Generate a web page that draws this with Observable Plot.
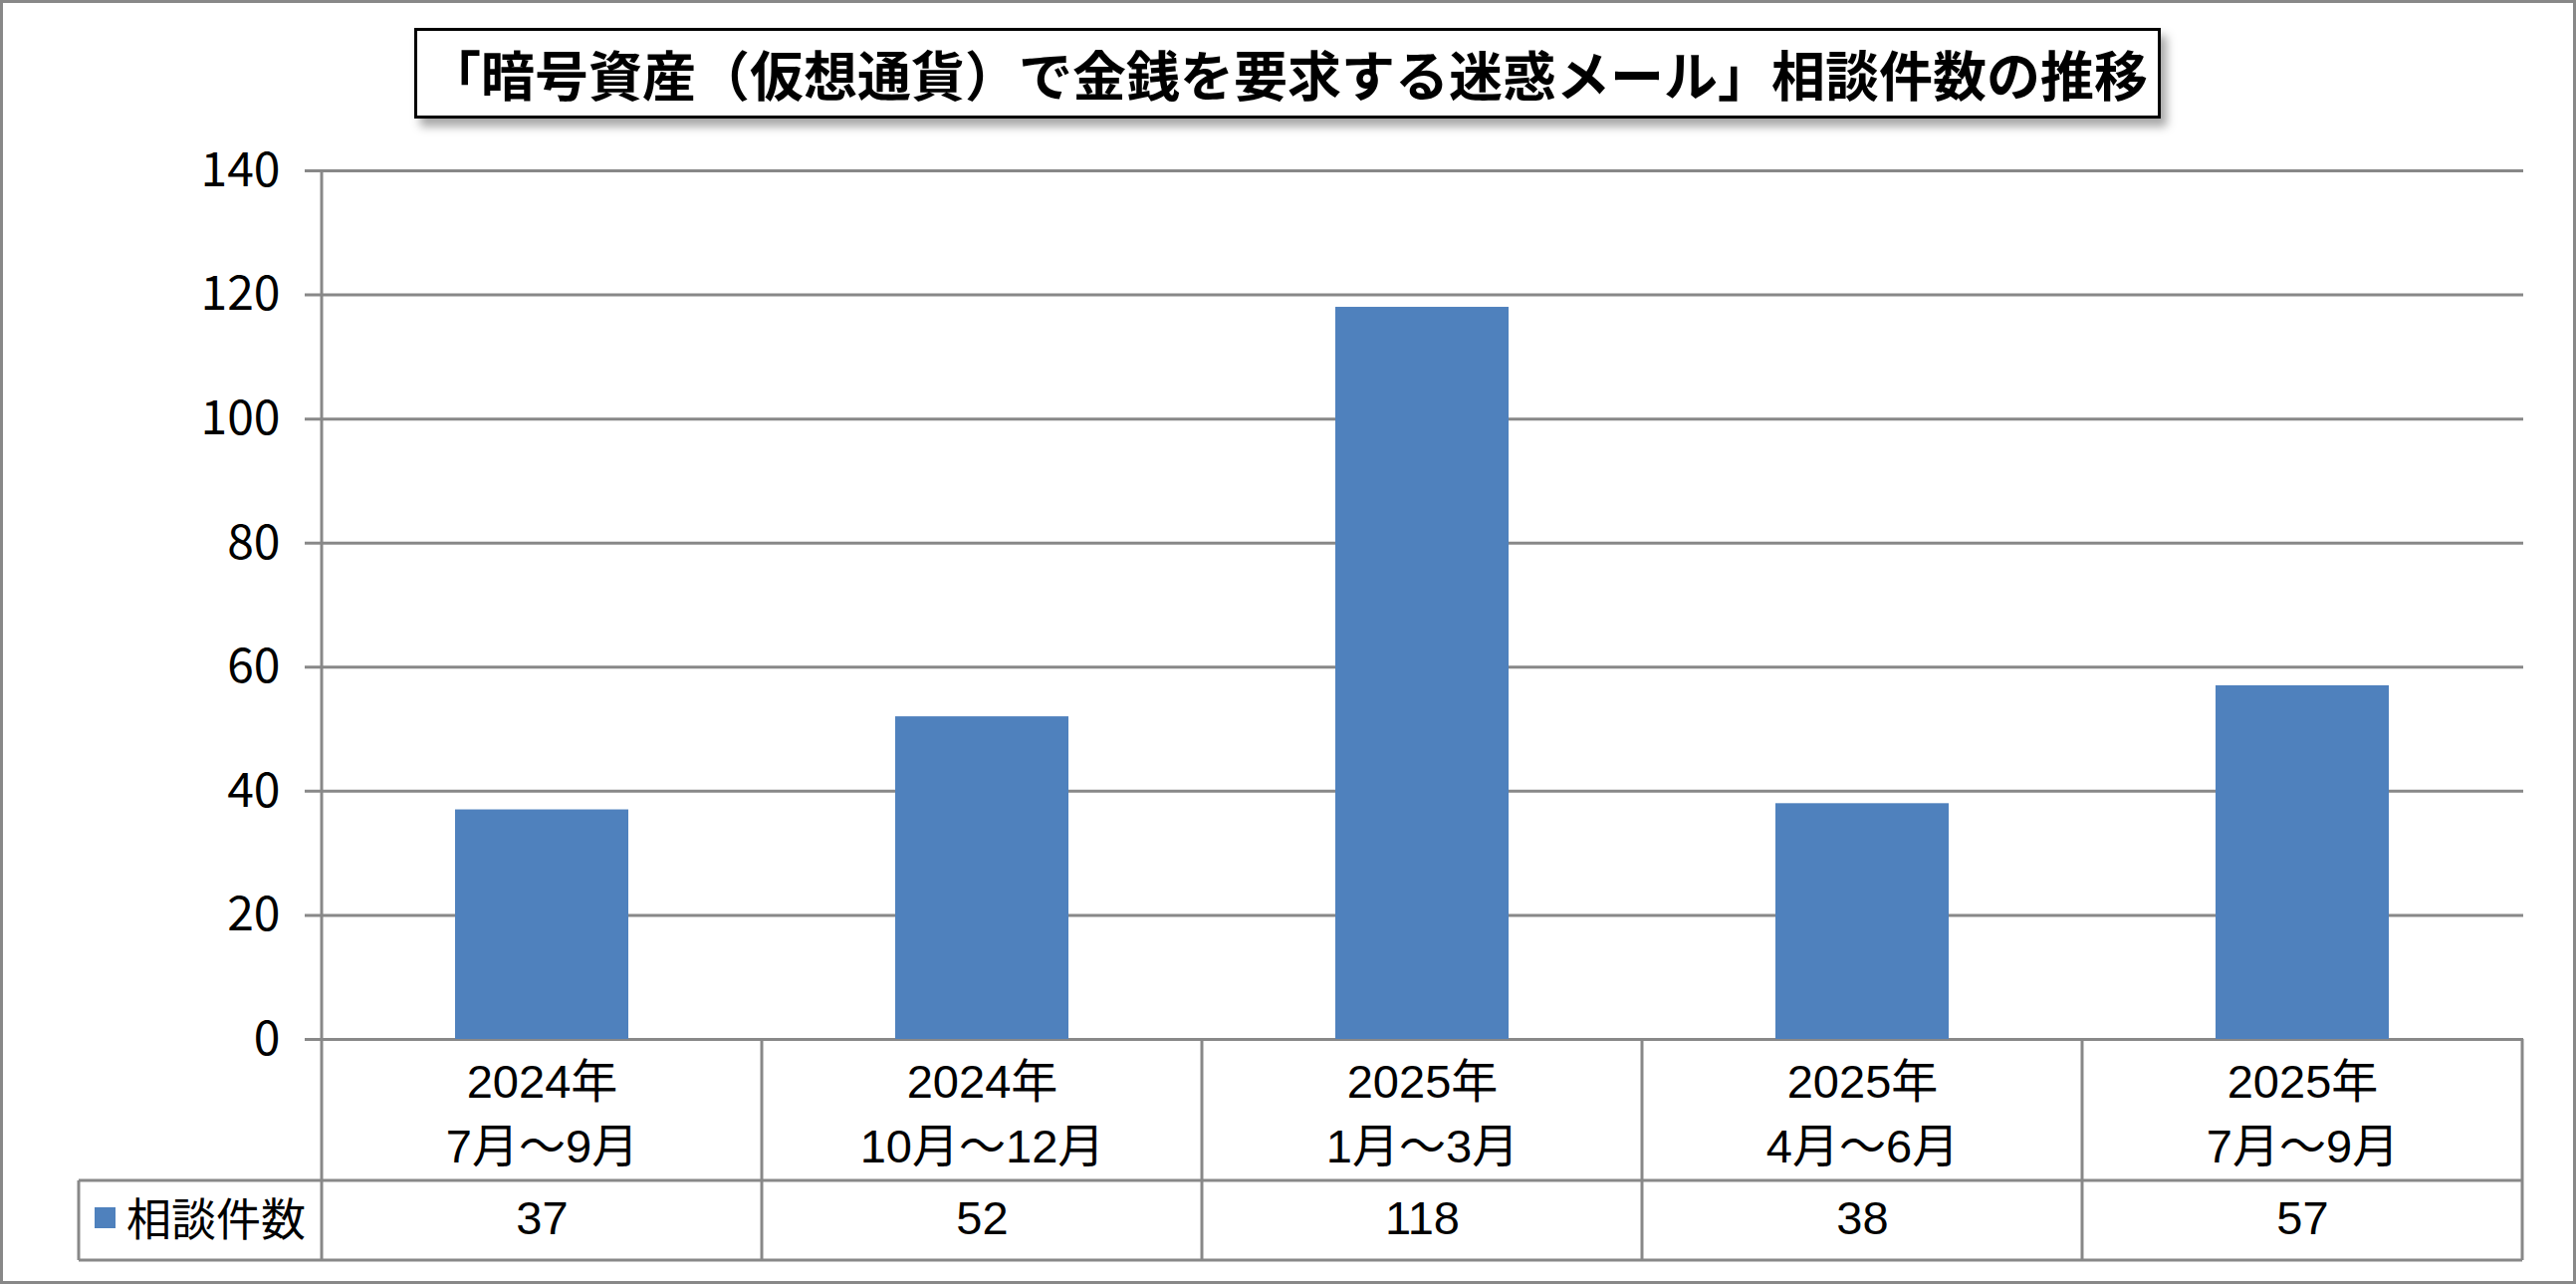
<!DOCTYPE html>
<html>
<head>
<meta charset="utf-8">
<script src="https://cdn.jsdelivr.net/npm/d3@7"></script>
<script src="https://cdn.jsdelivr.net/npm/@observablehq/plot@0.6"></script>
<style>
  html, body { margin: 0; padding: 0; background: #fff; }
  #wrap { position: relative; width: 2587px; height: 1289px; overflow: hidden; background: #fff; }
  #border { position: absolute; left: 0; top: 0; width: 2587px; height: 1289px; box-sizing: border-box; border: 3px solid #888; pointer-events: none; }
  #chart { position: absolute; left: 0; top: 0; }
  #title { position: absolute; left: 416px; top: 28px; width: 1754px; height: 91px; box-sizing: border-box;
    border: 3px solid #000; background: #fff; box-shadow: 6px 8px 9px rgba(0,0,0,0.35);
    display: flex; align-items: center; justify-content: center;
    font-family: "Noto Sans CJK JP", sans-serif; font-weight: 700; font-size: 54px; color: #000; white-space: nowrap; }
</style>
</head>
<body>
<div id="wrap">
  <div id="chart"></div>
  <div id="title"></div>
  <div id="border"></div>
</div>
<script>
const titleText = "「暗号資産（仮想通貨）で金銭を要求する迷惑メール」相談件数の推移";
const years = ["2024年", "2024年", "2025年", "2025年", "2025年"];
const months = ["7月～9月", "10月～12月", "1月～3月", "4月～6月", "7月～9月"];
const counts = [37, 52, 118, 38, 57];
const seriesName = "相談件数";
const yTicks = [0, 20, 40, 60, 80, 100, 120, 140];

document.getElementById("title").textContent = titleText;

const data = years.map((y, i) => ({cat: y + "\n" + months[i], value: counts[i]}));
const cats = data.map(d => d.cat);

const barColor = "#4F81BD";
const lineColor = "#888888";
const tableFont = "'Liberation Sans', 'Noto Sans CJK JP', sans-serif";

const plot = Plot.plot({
  width: 2587,
  height: 1289,
  marginLeft: 321,
  marginRight: 53,
  marginTop: 171,
  marginBottom: 246,
  style: {background: "transparent", color: "black", fontFamily: tableFont},
  x: {domain: cats, padding: 0, axis: null},
  y: {domain: [0, 140], axis: null, label: null},
  marks: [
    Plot.ruleY(yTicks, {stroke: lineColor, strokeWidth: 3, insetLeft: -15}),
    Plot.barY(data, {x: "cat", y: "value", fill: barColor, insetLeft: 134, insetRight: 134}),
    Plot.axisY({ticks: yTicks, tickSize: 0, tickPadding: 40, fontSize: 48, fill: "black",
      fontFamily: "'Noto Sans CJK JP', sans-serif", label: null}),
    Plot.text(data, {x: "cat", text: "cat", frameAnchor: "bottom", dy: 70, lineHeight: 1.38,
      lineAnchor: "middle", fontSize: 47, fill: "black"}),
    Plot.text(data, {x: "cat", text: d => String(d.value), frameAnchor: "bottom", dy: 180,
      lineAnchor: "middle", fontSize: 47, fill: "black"})
  ]
});
document.getElementById("chart").appendChild(plot);

// data table grid drawn from the plot's own scales
const xs = plot.scale("x");
const ys = plot.scale("y");
const bw = xs.bandwidth;
const x0 = xs.apply(cats[0]);
const xEnd = xs.apply(cats[cats.length - 1]) + bw;
const yZero = ys.apply(0);
const yTop = ys.apply(140);
const rowDiv = yZero + 142;
const rowBottom = yZero + 222;
const legendLeft = 79;

const svg = d3.select(plot);
const g = svg.append("g").attr("stroke", lineColor).attr("stroke-width", 3).attr("fill", "none");
g.append("line").attr("x1", x0).attr("x2", x0).attr("y1", yTop).attr("y2", rowBottom);
cats.slice(1).forEach(c => {
  const xx = xs.apply(c);
  g.append("line").attr("x1", xx).attr("x2", xx).attr("y1", yZero).attr("y2", rowBottom);
});
g.append("line").attr("x1", xEnd).attr("x2", xEnd).attr("y1", yZero).attr("y2", rowBottom);
g.append("line").attr("x1", legendLeft).attr("x2", xEnd).attr("y1", rowDiv).attr("y2", rowDiv);
g.append("line").attr("x1", legendLeft).attr("x2", xEnd).attr("y1", rowBottom).attr("y2", rowBottom);
g.append("line").attr("x1", legendLeft).attr("x2", legendLeft).attr("y1", rowDiv).attr("y2", rowBottom);

const midRow = (rowDiv + rowBottom) / 2;
svg.append("rect").attr("x", legendLeft + 16).attr("y", midRow - 13).attr("width", 21).attr("height", 21).attr("fill", barColor);
svg.append("text").attr("x", legendLeft + 48).attr("y", midRow).attr("dy", "0.35em")
  .attr("text-anchor", "start")
  .attr("font-size", 45).attr("font-family", "'Noto Sans CJK JP', sans-serif").attr("fill", "black")
  .text(seriesName);
</script>
</body>
</html>
